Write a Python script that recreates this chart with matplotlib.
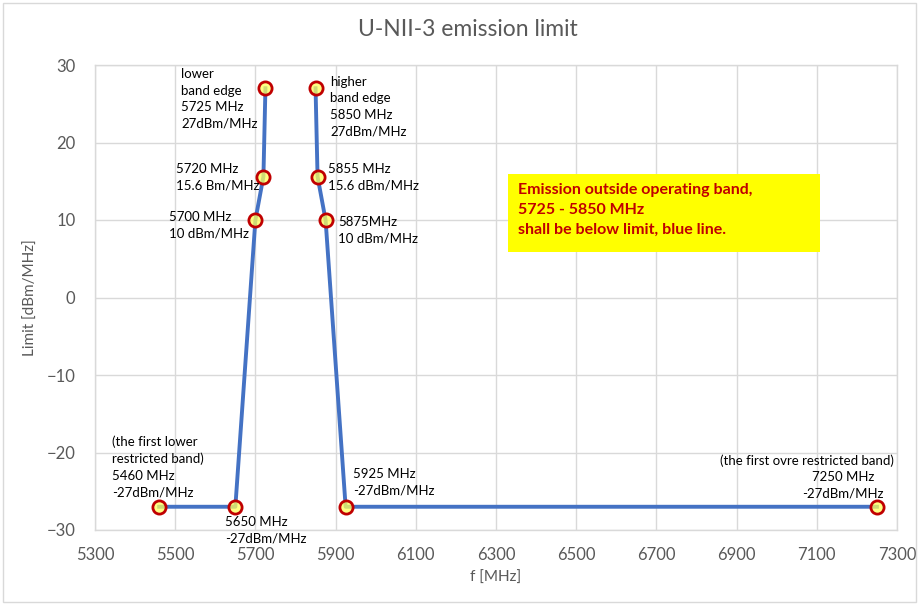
import matplotlib
matplotlib.use("Agg")
import matplotlib.pyplot as plt
from matplotlib.patches import Rectangle

plt.rcParams['font.family'] = ['Lato', 'DejaVu Sans']

# lower band-edge branch and upper band-edge branch (no line inside the band)
freq_low = [5460, 5650, 5700, 5720, 5725]
limit_low = [-27, -27, 10, 15.6, 27]
freq_high = [5850, 5855, 5875, 5925, 7250]
limit_high = [27, 15.6, 10, -27, -27]
x_ticks = list(range(5300, 7301, 200))
y_ticks = list(range(-30, 31, 10))

labels = [
    ("lower\nband edge\n5725 MHz\n27dBm/MHz", 5515, 29.6, 'left'),
    ("higher\nband edge\n5850 MHz\n27dBm/MHz", 5886, 28.6, 'left'),
    ("5720 MHz\n15.6 Bm/MHz", 5501, 17.3, 'left'),
    ("5700 MHz\n10 dBm/MHz", 5484, 11.1, 'left'),
    ("5855 MHz\n15.6 dBm/MHz", 5881, 17.3, 'left'),
    ("5875MHz\n10 dBm/MHz", 5906, 10.5, 'left'),
    ("(the first lower\nrestricted band)\n5460 MHz\n-27dBm/MHz", 5342, -17.8, 'left'),
    ("5650 MHz\n-27dBm/MHz", 5624, -28.2, 'left'),
    ("5925 MHz\n-27dBm/MHz", 5943, -22.0, 'left'),
]

gray = '#595959'
grid = '#d9d9d9'

fig = plt.figure(figsize=(9.19, 6.05), dpi=100)
ax = fig.add_axes([95/919, 1-530/605, 802/919, 465/605])

for fx, ly in ((freq_low, limit_low), (freq_high, limit_high)):
    ax.plot(fx, ly, color='#4472C4', lw=2.8, zorder=3)
    ax.plot(fx, ly, ls='none', marker='o', markersize=9.5,
            markerfacecolor=(1, 1, 0.35, 0.75),
            markeredgecolor='#C00000', markeredgewidth=2, zorder=3.5)

ax.set_xlim(5300, 7300)
ax.set_ylim(-30, 30)
ax.set_xticks(x_ticks)
ax.set_yticks(y_ticks)
ax.grid(True, color=grid, lw=1)
ax.set_axisbelow(True)
for s in ax.spines.values():
    s.set_color(grid)
    s.set_linewidth(1)
ax.tick_params(length=0, labelsize=12, labelcolor=gray)
ax.tick_params(axis='x', pad=12)
ax.tick_params(axis='y', pad=14)

fig.text(468/919, 1-30/605, "U-NII-3 emission limit", fontsize=16.5,
         color=gray, ha='center', va='center')
ax.set_xlabel("f [MHz]", fontsize=11, color=gray, labelpad=6)
ax.set_ylabel("Limit [dBm/MHz]", fontsize=11, color=gray, labelpad=6)

for txt, x, y, ha in labels:
    ax.text(x, y, txt, ha=ha, va='top', fontsize=9.5, color='black',
            linespacing=1.45, zorder=4)

ax.text(7293, -20.2, "(the first ovre restricted band)", ha='right', va='top',
        fontsize=9.5, color='black', zorder=4)
ax.text(7166, -22.4, "7250 MHz\n-27dBm/MHz", ha='center', va='top',
        fontsize=9.5, color='black', linespacing=1.45, zorder=4)

ax.add_patch(Rectangle((0.515, 0.598), 0.389, 0.168, transform=ax.transAxes,
                       facecolor='#FFFF00', edgecolor='none', zorder=2))
ax.text(0.527, 0.746,
        "Emission outside operating band,\n5725 - 5850 MHz\nshall be below limit, blue line.",
        transform=ax.transAxes, ha='left', va='top', fontsize=11.5,
        fontweight='bold', color='#C00000', linespacing=1.55, zorder=4)

fig.patches.append(Rectangle((3/919, 3/605), 913/919, 599/605,
                             transform=fig.transFigure, fill=False,
                             edgecolor='#d9d9d9', lw=1))

fig.savefig("out.png", dpi=100)
